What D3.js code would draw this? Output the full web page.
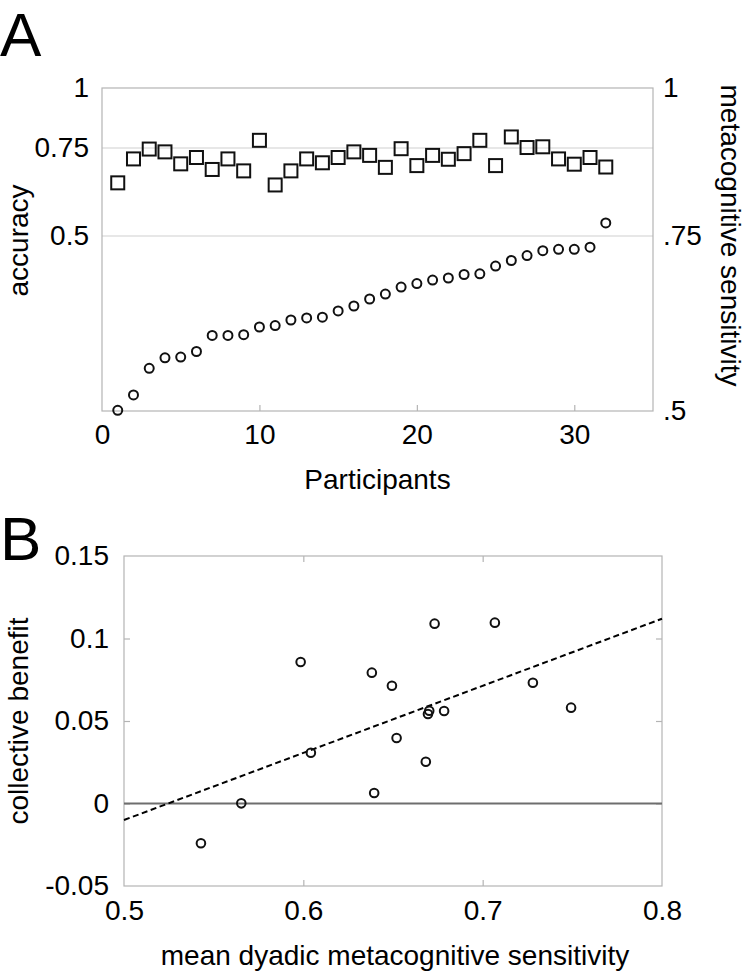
<!DOCTYPE html>
<html><head><meta charset="utf-8">
<script src="https://cdn.jsdelivr.net/npm/d3@7"></script>
<style>
body{margin:0;background:#fff}
text{font-family:"Liberation Sans",Arial,Helvetica,sans-serif;fill:#000}
</style>
</head><body>
<svg id="c" width="750" height="975"></svg>
<script>
// ---------- Panel A data ----------
const participants = [1,2,3,4,5,6,7,8,9,10,11,12,13,14,15,16,17,18,19,20,21,22,23,24,25,26,27,28,29,30,31,32];
const accuracy = [0.651,0.719,0.747,0.739,0.705,0.723,0.689,0.719,0.685,0.782,0.645,0.685,0.719,0.708,0.723,0.739,
                  0.729,0.695,0.748,0.700,0.729,0.718,0.734,0.782,0.700,0.796,0.752,0.755,0.719,0.704,0.723,0.696];
const metaSensitivity = [0.501,0.523,0.561,0.576,0.577,0.585,0.608,0.608,0.609,0.620,0.622,0.630,0.633,0.634,0.643,0.650,
                         0.660,0.667,0.677,0.682,0.687,0.690,0.695,0.696,0.707,0.715,0.722,0.729,0.731,0.731,0.734,0.772];
const aXTicks = [0,10,20,30];
const aLeftTicks = [0.5,0.75,1];
const aLeftLabels = ["0.5","0.75","1"];
const aRightTicks = [0.5,0.75,1];
const aRightLabels = [".5",".75","1"];
const aGrid = [0.5,0.75];

// ---------- Panel B data ----------
const dyadSensitivity = [0.5985,0.6382,0.6494,0.6732,0.7068,0.7280,0.7493,0.6702,0.6695,0.6785,0.5429,0.5654,0.6042,0.6395,0.6520,0.6683];
const collectiveBenefit = [0.0858,0.0793,0.0714,0.1090,0.1096,0.0732,0.0581,0.0562,0.0542,0.0561,-0.0241,0.0001,0.0308,0.0064,0.0397,0.0253];
const fitX = [0.5,0.8];
const fitY = [-0.010,0.112];
const bXTicks = [0.5,0.6,0.7,0.8];
const bXLabels = ["0.5","0.6","0.7","0.8"];
const bYTicks = [-0.05,0,0.05,0.1,0.15];
const bYLabels = ["-0.05","0","0.05","0.1","0.15"];

const svg = d3.select("#c");
const FS = 28;
const frameColor = "#b4b4b4";

// ================= Panel A =================
const A = {l:102, r:653, t:88, b:411};
const xA = d3.scaleLinear().domain([0,35]).range([A.l,A.r]);
const yAcc = d3.scaleLinear().domain([0.5,0.75,1]).range([236,148,88]);
const yMeta = d3.scaleLinear().domain([0.5,0.75,1]).range([A.b,236,A.t]);

const gA = svg.append("g");
gA.selectAll("line.grid").data(aGrid).join("line")
  .attr("x1",A.l).attr("x2",A.r).attr("y1",d=>yAcc(d)).attr("y2",d=>yAcc(d))
  .attr("stroke","#cfcfcf").attr("stroke-width",1.2);
gA.append("rect").attr("x",A.l).attr("y",A.t).attr("width",A.r-A.l).attr("height",A.b-A.t)
  .attr("fill","none").attr("stroke",frameColor).attr("stroke-width",1.2);

const axAB = gA.append("g").attr("transform",`translate(0,${A.b})`)
  .call(d3.axisBottom(xA).tickValues(aXTicks).tickSize(-6).tickPadding(13).tickFormat(d3.format("d")));
const axAL = gA.append("g").attr("transform",`translate(${A.l},0)`)
  .call(d3.axisLeft(yAcc).tickValues(aLeftTicks).tickSize(0).tickPadding(13).tickFormat((d,i)=>aLeftLabels[i]));
const axAR = gA.append("g").attr("transform",`translate(${A.r},0)`)
  .call(d3.axisRight(yMeta).tickValues(aRightTicks).tickSize(0).tickPadding(10).tickFormat((d,i)=>aRightLabels[i]));
[axAB,axAL,axAR].forEach(g=>{
  g.select(".domain").remove();
  g.selectAll(".tick line").attr("stroke",frameColor).attr("stroke-width",1.2);
  g.selectAll(".tick text").attr("font-size",FS).attr("font-family",null);
});
axAB.selectAll(".tick").filter(d=>d===0).select("line").remove();

const sq = 13;
gA.selectAll("rect.acc").data(participants).join("rect")
  .attr("x",(d)=>xA(d)-sq/2).attr("y",(d,i)=>yAcc(accuracy[i])-sq/2)
  .attr("width",sq).attr("height",sq)
  .attr("fill","none").attr("stroke","#111").attr("stroke-width",2);
gA.selectAll("circle.meta").data(participants).join("circle")
  .attr("cx",d=>xA(d)).attr("cy",(d,i)=>yMeta(metaSensitivity[i])).attr("r",4.5)
  .attr("fill","none").attr("stroke","#111").attr("stroke-width",2);

svg.append("text").attr("x",0).attr("y",56).attr("font-size",62).text("A");
svg.append("text").attr("transform",`translate(28,${(A.t+A.b)/2 - 9}) rotate(-90)`)
  .attr("text-anchor","middle").attr("font-size",FS).text("accuracy");
svg.append("text").attr("transform",`translate(721,${(A.t+A.b)/2 - 14}) rotate(90)`)
  .attr("text-anchor","middle").attr("font-size",FS).text("metacognitive sensitivity");
svg.append("text").attr("x",(A.l+A.r)/2).attr("y",489).attr("text-anchor","middle")
  .attr("font-size",FS).text("Participants");

// ================= Panel B =================
const B = {l:124, r:662, t:556, b:886};
const xB = d3.scaleLinear().domain([0.5,0.8]).range([B.l,B.r]);
const yB = d3.scaleLinear().domain([-0.05,0.15]).range([B.b,B.t]);
const gB = svg.append("g");

gB.append("rect").attr("x",B.l).attr("y",B.t).attr("width",B.r-B.l).attr("height",B.b-B.t)
  .attr("fill","none").attr("stroke",frameColor).attr("stroke-width",1.2);

const inner = a=>a.slice(1,-1);
const axBB = gB.append("g").attr("transform",`translate(0,${B.b})`)
  .call(d3.axisBottom(xB).tickValues(bXTicks).tickSize(-6).tickPadding(14).tickFormat((d,i)=>bXLabels[i]));
const axBT = gB.append("g").attr("transform",`translate(0,${B.t})`)
  .call(d3.axisTop(xB).tickValues(inner(bXTicks)).tickSize(-6).tickFormat(""));
const axBL = gB.append("g").attr("transform",`translate(${B.l},0)`)
  .call(d3.axisLeft(yB).tickValues(bYTicks).tickSize(-6).tickPadding(15).tickFormat((d,i)=>bYLabels[i]));
const axBR = gB.append("g").attr("transform",`translate(${B.r},0)`)
  .call(d3.axisRight(yB).tickValues(inner(bYTicks)).tickSize(-6).tickFormat(""));
[axBB,axBT,axBL,axBR].forEach(g=>{
  g.select(".domain").remove();
  g.selectAll(".tick line").attr("stroke",frameColor).attr("stroke-width",1.2);
  g.selectAll(".tick text").attr("font-size",FS).attr("font-family",null);
});
axBB.selectAll(".tick").filter(d=>d===0.5||d===0.8).select("line").remove();
axBL.selectAll(".tick").filter(d=>d===-0.05||d===0.15).select("line").remove();

gB.append("line").attr("x1",B.l).attr("x2",B.r).attr("y1",yB(0)).attr("y2",yB(0))
  .attr("stroke","#6e6e6e").attr("stroke-width",2);
gB.append("path").datum(fitX.map((x,i)=>[x,fitY[i]]))
  .attr("d",d3.line().x(d=>xB(d[0])).y(d=>yB(d[1])))
  .attr("fill","none").attr("stroke","#000").attr("stroke-width",2).attr("stroke-dasharray","6,3.5");
gB.selectAll("circle.pt").data(dyadSensitivity).join("circle")
  .attr("cx",d=>xB(d)).attr("cy",(d,i)=>yB(collectiveBenefit[i])).attr("r",4.3)
  .attr("fill","none").attr("stroke","#111").attr("stroke-width",2);

svg.append("text").attr("x",0).attr("y",560).attr("font-size",62).text("B");
svg.append("text").attr("transform",`translate(28,${(B.t+B.b)/2}) rotate(-90)`)
  .attr("text-anchor","middle").attr("font-size",FS).text("collective benefit");
svg.append("text").attr("x",(B.l+B.r)/2 + 2).attr("y",965).attr("text-anchor","middle")
  .attr("font-size",FS).text("mean dyadic metacognitive sensitivity");
</script>
</body></html>
